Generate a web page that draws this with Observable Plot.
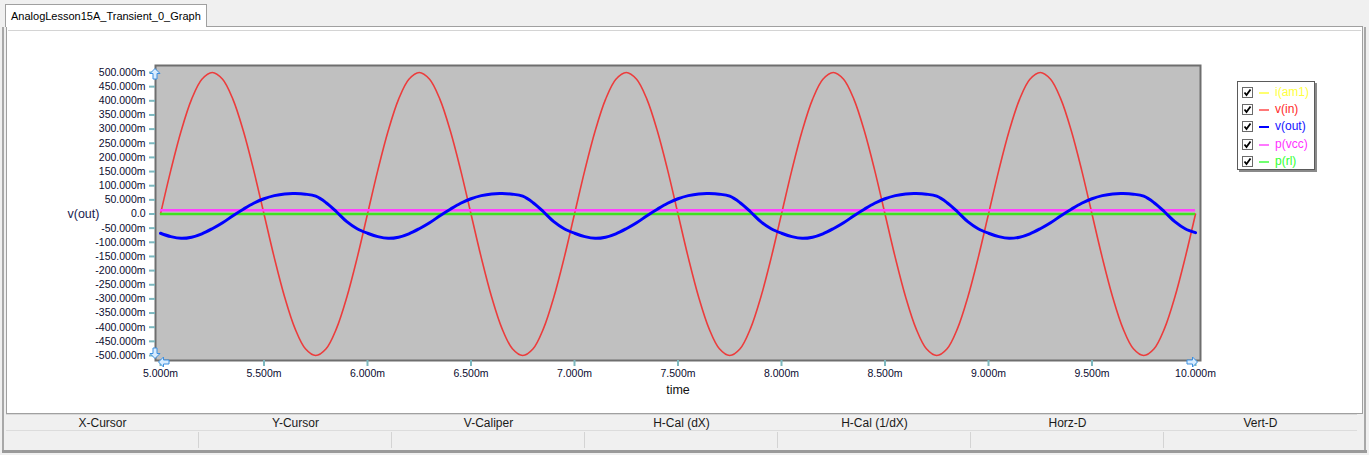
<!DOCTYPE html>
<html>
<head>
<meta charset="utf-8">
<script src="https://cdn.jsdelivr.net/npm/d3@7"></script>
<script src="https://cdn.jsdelivr.net/npm/@observablehq/plot@0.6"></script>
<style>
  html, body { margin: 0; padding: 0; }
  body { width: 1369px; height: 455px; background: #f0f0f0; position: relative; overflow: hidden;
         font-family: "Liberation Sans", Arial, sans-serif; color: #000; }
  .abs { position: absolute; }
  #tab { left: 5px; top: 4px; width: 202px; height: 23px; background: #fff; border: 1px solid #a0a0a0;
         border-bottom: none; font-size: 11px; line-height: 22px; padding-left: 5px; box-sizing: border-box; z-index: 2; color: #000; }
  #panel { left: 6px; top: 26px; width: 1357px; height: 388px; background: #fff; border: 1px solid #a0a0a0; box-sizing: border-box; }
  #panelLine { left: 8px; top: 30px; width: 1353px; height: 1px; background: #d4d4d4; }
  #chart { left: 6px; top: 30px; }
  #table { left: 6px; top: 414px; width: 1351px; height: 36px; background: #f0f0f0; border-top: 1px solid #d8d8d8; }
  .hcell { position: absolute; top: 0; height: 16px; line-height: 16px; font-size: 12px; text-align: center; color: #1a1a1a; }
  #rowline { left: 6px; top: 430px; width: 1351px; height: 1px; background: #dcdcdc; }
  .vsep { position: absolute; top: 432px; width: 1px; height: 16px; background: #d4d4d4; }
  #winBottom { left: 2px; top: 450px; width: 1365px; height: 3px; background: #9a9a9a; }
  #winLeft { left: 2px; top: 27px; width: 2px; height: 425px; background: #a8a8a8; }
  #winRight { left: 1364px; top: 27px; width: 2px; height: 425px; background: #a8a8a8; }
  #legend { left: 1237px; top: 81px; width: 78px; height: 89px; background: #fff; border: 1px solid #5a5a5a;
            box-shadow: 2px 2px 0 #8a8a8a; box-sizing: border-box; padding-top: 2px; }
  .lrow { height: 17.2px; position: relative; font-size: 12px; }
  .cb { position: absolute; left: 4px; top: 3px; width: 11px; height: 11px; border: 1px solid #6a6a6a; box-sizing: border-box; background: #fff; }
  .sw { position: absolute; left: 21px; top: 8px; width: 10px; height: 2px; }
  .lt { position: absolute; left: 37px; top: 1px; line-height: 15px; }
</style>
</head>
<body>
<div id="tab" class="abs">AnalogLesson15A_Transient_0_Graph</div>
<div id="winLeft" class="abs"></div>
<div id="winRight" class="abs"></div>
<div id="panel" class="abs"></div>
<div id="panelLine" class="abs"></div>
<div id="chart" class="abs"></div>
<div id="legend" class="abs"></div>
<div id="table" class="abs"></div>
<div id="rowline" class="abs"></div>
<div id="winBottom" class="abs"></div>
<script>
// ---- data (time in ms, values in m-units) ----
const time = [
  5.00,5.05,5.10,5.15,5.20,5.25,5.30,5.35,5.40,5.45,5.50,5.55,5.60,5.65,5.70,5.75,5.80,5.85,5.90,5.95,
  6.00,6.05,6.10,6.15,6.20,6.25,6.30,6.35,6.40,6.45,6.50,6.55,6.60,6.65,6.70,6.75,6.80,6.85,6.90,6.95,
  7.00,7.05,7.10,7.15,7.20,7.25,7.30,7.35,7.40,7.45,7.50,7.55,7.60,7.65,7.70,7.75,7.80,7.85,7.90,7.95,
  8.00,8.05,8.10,8.15,8.20,8.25,8.30,8.35,8.40,8.45,8.50,8.55,8.60,8.65,8.70,8.75,8.80,8.85,8.90,8.95,
  9.00,9.05,9.10,9.15,9.20,9.25,9.30,9.35,9.40,9.45,9.50,9.55,9.60,9.65,9.70,9.75,9.80,9.85,9.90,9.95,
  10.00];
const vIn = [
  0,155,294,405,476,500,476,405,294,155,0,-155,-294,-405,-476,-500,-476,-405,-294,-155,
  0,155,294,405,476,500,476,405,294,155,0,-155,-294,-405,-476,-500,-476,-405,-294,-155,
  0,155,294,405,476,500,476,405,294,155,0,-155,-294,-405,-476,-500,-476,-405,-294,-155,
  0,155,294,405,476,500,476,405,294,155,0,-155,-294,-405,-476,-500,-476,-405,-294,-155,
  0,155,294,405,476,500,476,405,294,155,0,-155,-294,-405,-476,-500,-476,-405,-294,-155,
  0];
const vOut = [
  -68,-80,-86,-82,-70,-52,-31,-6,17,38,54,65,71,72,70,63,40,8,-27,-52,
  -68,-80,-86,-82,-70,-52,-31,-6,17,38,54,65,71,72,70,63,40,8,-27,-52,
  -68,-80,-86,-82,-70,-52,-31,-6,17,38,54,65,71,72,70,63,40,8,-27,-52,
  -68,-80,-86,-82,-70,-52,-31,-6,17,38,54,65,71,72,70,63,40,8,-27,-52,
  -68,-80,-86,-82,-70,-52,-31,-6,17,38,54,65,71,72,70,63,40,8,-27,-52,
  -66];
const iAm1 = 0;      // flat level
const pVcc = 13;     // flat level
const pRl = 0;       // flat level
const xTicks = [5.0,5.5,6.0,6.5,7.0,7.5,8.0,8.5,9.0,9.5,10.0];
const yTicks = [-500,-450,-400,-350,-300,-250,-200,-150,-100,-50,0,50,100,150,200,250,300,350,400,450,500];
const seriesNames = ["i(am1)","v(in)","v(out)","p(vcc)","p(rl)"];
const seriesColors = ["#ffff30","#ec3c3c","#0000ff","#ff40ff","#40e020"];
const legendSwatch = ["#ffff70","#ff7878","#0000ff","#ff78ff","#70ff70"];
const legendText = ["#ffff40","#ff2828","#1414ff","#ff30ff","#30ff30"];
const tableHeaders = ["X-Cursor","Y-Cursor","V-Caliper","H-Cal (dX)","H-Cal (1/dX)","Horz-D","Vert-D"];

const rows = time.map((t, i) => ({t, vin: vIn[i], vout: vOut[i]}));
const tStart = time[0], tEnd = time[time.length - 1];

const fmtY = v => v === 0 ? "0.0" : v.toFixed(3) + "m";
const fmtX = v => v.toFixed(3) + "m";
const tickColor = "#7db8bf";
const labelColor = "#0c0c30";

const W = 1357, H = 383;
const chart = Plot.plot({
  width: W,
  height: H,
  marginLeft: 154,
  marginRight: 168,
  marginTop: 42,
  marginBottom: 58,
  style: {background: "transparent", fontFamily: "Liberation Sans, Arial, sans-serif", fontSize: "10.5px", overflow: "visible"},
  x: {domain: [5, 10]},
  y: {domain: [-500, 500]},
  marks: [
    Plot.frame({fill: "#c0c0c0", stroke: "#6e6e6e", strokeWidth: 2, insetTop: -7, insetBottom: -5, insetLeft: -5, insetRight: -5}),
    Plot.axisY({ticks: yTicks, tickFormat: fmtY, tickSize: 6, tickPadding: 4, dx: -5, stroke: tickColor, strokeWidth: 2, fill: labelColor, label: null}),
    Plot.axisX({ticks: xTicks, tickFormat: fmtX, tickSize: 6, tickPadding: 3, dy: 5, stroke: tickColor, strokeWidth: 2, fill: labelColor, label: null}),
    Plot.text(["time"], {frameAnchor: "bottom", dy: 38, fontSize: 12.5, fill: "#111"}),
    Plot.text(["v(out)"], {frameAnchor: "left", dx: -93, fontSize: 12.5, fill: "#1a2250"}),
    Plot.ruleY([iAm1], {x1: tStart, x2: tEnd, stroke: seriesColors[0], strokeWidth: 2}),
    Plot.lineY(rows, {x: "t", y: "vin", stroke: seriesColors[1], strokeWidth: 1.6, curve: "catmull-rom"}),
    Plot.ruleY([pVcc], {x1: tStart, x2: tEnd, stroke: seriesColors[3], strokeWidth: 2.5}),
    Plot.ruleY([pRl], {x1: tStart, x2: tEnd, stroke: seriesColors[4], strokeWidth: 2.5}),
    Plot.lineY(rows, {x: "t", y: "vout", stroke: seriesColors[2], strokeWidth: 3, curve: "catmull-rom"})
  ]
});
document.getElementById("chart").appendChild(chart);

// legend
const leg = document.getElementById("legend");
seriesNames.forEach((n, i) => {
  const r = document.createElement("div");
  r.className = "lrow";
  r.innerHTML = `<div class="cb"><svg width="9" height="9" style="position:absolute;left:0;top:0"><polyline points="1.5,4.5 3.5,7 7.5,1.5" fill="none" stroke="#000" stroke-width="1.8"/></svg></div>` +
    `<div class="sw" style="background:${legendSwatch[i]}"></div>` +
    `<div class="lt" style="color:${legendText[i]}">${n}</div>`;
  leg.appendChild(r);
});

// table
const tbl = document.getElementById("table");
const colW = 1351 / tableHeaders.length;
tableHeaders.forEach((h, i) => {
  const c = document.createElement("div");
  c.className = "hcell";
  c.style.left = (i * colW) + "px";
  c.style.width = colW + "px";
  c.textContent = h;
  tbl.appendChild(c);
  if (i > 0) {
    const s = document.createElement("div");
    s.className = "vsep";
    s.style.left = (6 + i * colW - 1) + "px";
    document.body.appendChild(s);
  }
});

// cursor handle arrows (decoration)
const arrowSvg = (x, y, rot) => {
  const d = document.createElement("div");
  d.className = "abs";
  d.style.left = (x - 6) + "px"; d.style.top = (y - 6) + "px";
  d.innerHTML = `<svg width="12" height="12" style="transform:rotate(${rot}deg)"><polygon points="6,0.5 11,5.5 8,5.5 8,11 4,11 4,5.5 1,5.5" fill="#d8ecff" stroke="#3d8fe0" stroke-width="1"/></svg>`;
  document.body.appendChild(d);
};
arrowSvg(155, 72, 0);
arrowSvg(155, 351, 180);
arrowSvg(164, 360, 270);
arrowSvg(1192, 360, 90);
</script>
</body>
</html>
